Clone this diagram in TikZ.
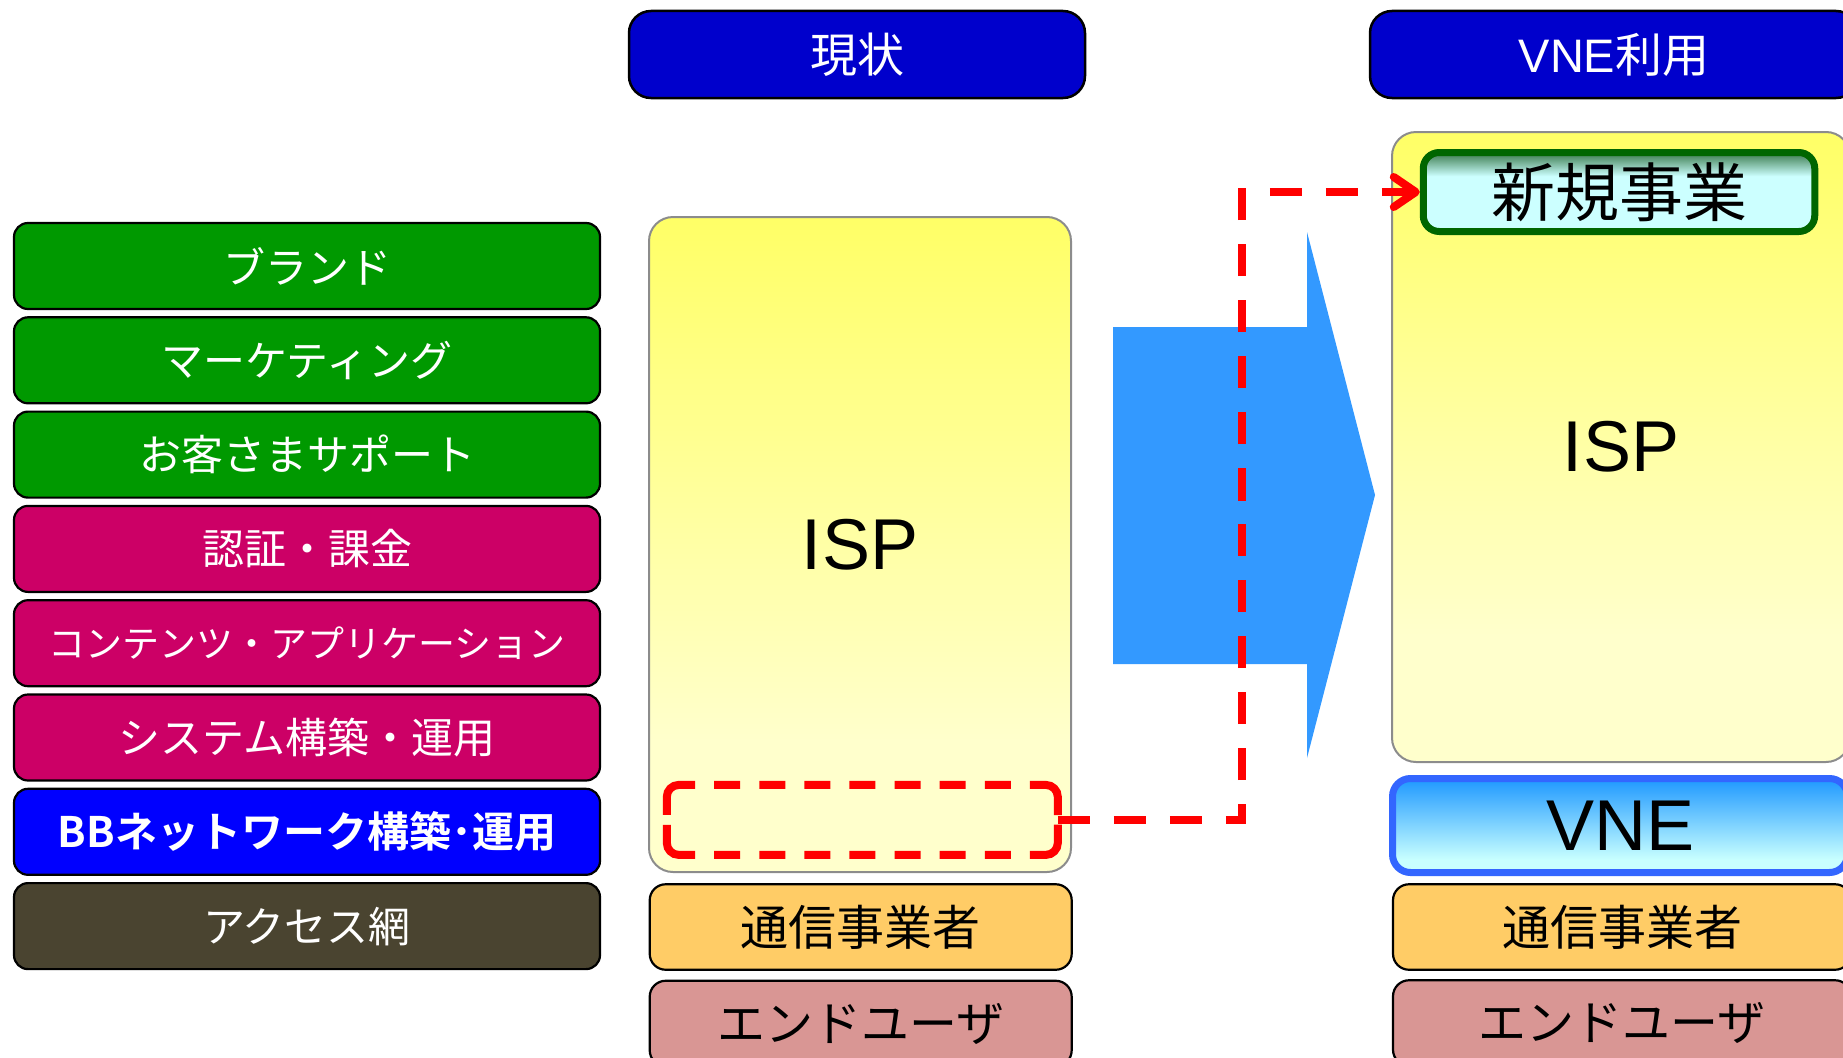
\documentclass[tikz,border=0pt]{standalone}
\usepackage{fontspec}
\setmainfont{Noto Sans CJK JP}[BoldFont={Noto Sans CJK JP Bold}]
\newfontfamily\latinsf{Liberation Sans}
\usetikzlibrary{arrows.meta}
\definecolor{hdrblue}{HTML}{0000CC}
\definecolor{gr}{HTML}{009900}
\definecolor{mg}{HTML}{CC0066}
\definecolor{bbblue}{HTML}{0000FF}
\definecolor{ol}{HTML}{4A4430}
\definecolor{orng}{HTML}{FFCC66}
\definecolor{rose}{HTML}{D99694}
\definecolor{ispyel}{HTML}{FFFF66}
\definecolor{isppale}{HTML}{FFFFCC}
\definecolor{ispgray}{HTML}{8C8C8C}
\definecolor{vnebord}{HTML}{3366FF}
\definecolor{vnetop}{HTML}{1E98FF}
\definecolor{vnebot}{HTML}{C8FFFF}
\definecolor{newgreen}{HTML}{006600}
\definecolor{newtop}{HTML}{3A7A4C}
\definecolor{newcyan}{HTML}{CCFFFF}
\definecolor{arrblue}{HTML}{3399FF}
\pgfdeclareverticalshading{ispshade}{100bp}{color(0bp)=(isppale); color(25bp)=(isppale); color(35bp)=(isppale); color(75bp)=(ispyel); color(100bp)=(ispyel)}
\pgfdeclareverticalshading{vneshade}{100bp}{color(0bp)=(vnebot); color(25bp)=(vnebot); color(32bp)=(vnebot); color(75bp)=(vnetop); color(100bp)=(vnetop)}
\pgfdeclareverticalshading{newshade}{100bp}{color(0bp)=(newcyan); color(25bp)=(newcyan); color(60bp)=(newcyan); color(75bp)=(newtop); color(100bp)=(newtop)}
\begin{document}
\begin{tikzpicture}[x=1pt,y=-1pt,
  hdr/.style={draw=black, line width=2.5pt, fill=hdrblue, rounded corners=22pt, text=white,
    font=\fontsize{47}{52}\selectfont, inner sep=0pt, minimum height=87pt},
  lbox/.style={draw=black, line width=2.2pt, rounded corners=14pt, text=white, inner sep=0pt,
    minimum width=586pt, minimum height=86pt, font=\fontsize{42}{48}\selectfont},
  cbox/.style={draw=black, line width=2.2pt, rounded corners=16pt, inner sep=0pt,
    minimum height=85.5pt, font=\fontsize{48}{54}\selectfont},
  ispbox/.style={draw=ispgray, line width=2pt, rounded corners=24pt, shade, shading=ispshade,
    inner sep=0pt, font=\latinsf\fontsize{72}{80}\selectfont},
  reddash/.style={draw=red, line width=8pt, dash pattern=on 32pt off 24pt},
  boxdash/.style={draw=red, line width=8pt, rounded corners=12pt,
    dash pattern=on 53pt off 19.1pt on 26pt off 19.1pt on 26pt off 19.1pt on 26pt off 19.1pt
      on 26pt off 19.1pt on 26pt off 19.1pt on 26pt off 19.1pt on 26pt off 19.1pt on 53pt off 10pt,
    dash phase=445.8pt},
]
\useasboundingbox (0,0) rectangle (1843,1057);
\clip (0,0) rectangle (1843,1057);

% headers
\node[hdr, minimum width=456pt] (hdr1) at (857,54.5) {現状};
\node[hdr, minimum width=488pt] (hdr2) at (1614,54.5) {{\latinsf VNE}利用};

% left column
\node[lbox, fill=gr] (brand) at (307,266) {ブランド};
\node[lbox, fill=gr] (mkt) at (307,360.3) {マーケティング};
\node[lbox, fill=gr] (sup) at (307,454.6) {お客さまサポート};
\node[lbox, fill=mg] (auth) at (307,548.9) {認証・課金};
\node[lbox, fill=mg, font=\fontsize{37}{44}\selectfont] (cont) at (307,643.2) {コンテンツ・アプリケーション};
\node[lbox, fill=mg] (sys) at (307,737.5) {システム構築・運用};
\node[lbox, fill=bbblue, font=\bfseries\fontsize{42}{48}\selectfont] (bbn) at (307,831.8) {BBネットワーク構築･運用};
\node[lbox, fill=ol] (acc) at (307,926.1) {アクセス網};

% middle column
\node[ispbox, minimum width=422pt, minimum height=655pt] (isp1) at (860,544.5) {ISP};
\node[minimum width=391pt, minimum height=70pt, inner sep=0pt, outer sep=0pt] (old) at (862.3,819.9) {};
\draw[boxdash] (old.west) |- (old.north) -| (old.east);
\draw[boxdash] (old.west) |- (old.south) -| (old.east);
\node[cbox, fill=orng, minimum width=422pt] (tsu1) at (860.7,927) {通信事業者};
\node[cbox, fill=rose, minimum width=422pt] (end1) at (860.7,1023.5) {エンドユーザ};

% right column
\node[ispbox, minimum width=458pt, minimum height=630pt] (isp2) at (1621,447) {ISP};
\node[draw=newgreen, line width=7pt, rounded corners=16pt, shade, shading=newshade, inner sep=0pt,
  minimum width=391.5pt, minimum height=79pt, font=\fontsize{64}{70}\selectfont] (new) at (1619,192) {新規事業};
\node[draw=vnebord, line width=7pt, rounded corners=18pt, shade, shading=vneshade, inner sep=0pt,
  minimum width=455pt, minimum height=94pt, font=\latinsf\fontsize{72}{80}\selectfont] (vne) at (1620,825.5) {VNE};
\node[cbox, fill=orng, minimum width=458pt] (tsu2) at (1622,927) {通信事業者};
\node[cbox, fill=rose, minimum width=458pt] (end2) at (1622,1023) {エンドユーザ};

% big blue arrow
\fill[arrblue] (1113,327) -- (1307,327) -- (1307,232) -- (1375,495) -- (1307,758) -- (1307,664) -- (1113,664) -- cycle;

% red dashed connector
\coordinate (bend) at (1242,500);
\draw[reddash, -{Straight Barb[length=22pt,width=30pt,round]}] (old.east) -| (bend) |- (new.west);
\end{tikzpicture}
\end{document}
